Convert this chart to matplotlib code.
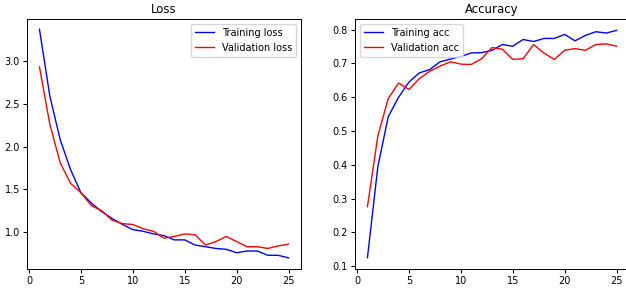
import matplotlib.pyplot as plt

epochs = list(range(1, 26))

train_loss = [3.37, 2.59, 2.08, 1.73, 1.46, 1.34, 1.24, 1.16, 1.09, 1.03,
              1.01, 0.98, 0.96, 0.91, 0.91, 0.85, 0.83, 0.81, 0.80, 0.76,
              0.78, 0.78, 0.73, 0.73, 0.70]
val_loss = [2.93, 2.26, 1.81, 1.57, 1.46, 1.31, 1.25, 1.14, 1.10, 1.09,
            1.04, 1.01, 0.93, 0.95, 0.98, 0.97, 0.85, 0.89, 0.95, 0.89,
            0.83, 0.83, 0.81, 0.84, 0.86]

train_acc = [0.125, 0.394, 0.542, 0.600, 0.645, 0.672, 0.682, 0.705, 0.713, 0.721,
             0.731, 0.732, 0.739, 0.756, 0.751, 0.771, 0.765, 0.774, 0.774, 0.786,
             0.767, 0.783, 0.794, 0.790, 0.798]
val_acc = [0.276, 0.485, 0.596, 0.642, 0.623, 0.655, 0.677, 0.692, 0.705, 0.698,
           0.697, 0.714, 0.747, 0.742, 0.712, 0.714, 0.756, 0.731, 0.712, 0.739,
           0.744, 0.739, 0.756, 0.758, 0.751]


def main():
    fig = plt.figure(figsize=(6.26, 2.91), dpi=100)
    ax1 = fig.add_axes([27 / 626, 22 / 291, 274 / 626, 250 / 291])
    ax2 = fig.add_axes([355 / 626, 22 / 291, 274 / 626, 250 / 291])

    # Loss panel
    ax1.plot(epochs, train_loss, 'b', lw=1.0, label='Training loss')
    ax1.plot(epochs, val_loss, 'r', lw=1.0, label='Validation loss')
    ax1.set_title('Loss', fontsize=8.5, pad=4)
    ax1.legend(loc='upper right', fontsize=7)
    # top sits just under 3.5 so that tick is not drawn
    ax1.set_ylim(0.57, 3.49)

    # Accuracy panel
    ax2.plot(epochs, train_acc, 'b', lw=1.0, label='Training acc')
    ax2.plot(epochs, val_acc, 'r', lw=1.0, label='Validation acc')
    ax2.set_title('Accuracy', fontsize=8.5, pad=4)
    ax2.legend(loc='upper left', fontsize=7)

    for ax in (ax1, ax2):
        ax.tick_params(labelsize=7, length=3, pad=2)
        ax.set_xticks([0, 5, 10, 15, 20, 25])
        for s in ax.spines.values():
            s.set_linewidth(0.7)

    fig.savefig('out.png', dpi=100)


if __name__ == '__main__':
    main()
